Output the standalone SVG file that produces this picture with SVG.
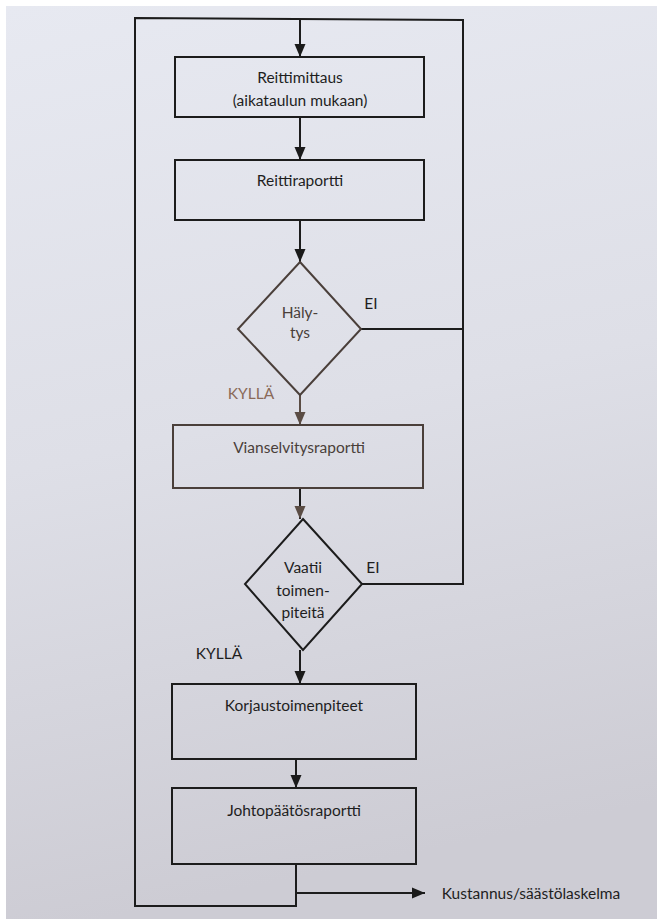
<svg xmlns="http://www.w3.org/2000/svg" width="657" height="919" viewBox="0 0 657 919">
<defs>
<linearGradient id="page" x1="0" y1="0" x2="0.15" y2="1">
<stop offset="0" stop-color="#e7e9f1"/>
<stop offset="0.5" stop-color="#dedfe7"/>
<stop offset="1" stop-color="#cdccd4"/>
</linearGradient>
<marker id="ah" viewBox="0 0 13 12" refX="13" refY="6" markerWidth="13" markerHeight="12" markerUnits="userSpaceOnUse" orient="auto">
<path d="M0,0.5 L13,6 L0,11.5 Z" fill="#1a1a1a"/>
</marker>
<marker id="ahb" viewBox="0 0 13 12" refX="13" refY="6" markerWidth="13" markerHeight="12" markerUnits="userSpaceOnUse" orient="auto">
<path d="M0,0.5 L13,6 L0,11.5 Z" fill="#5a4c44"/>
</marker>
</defs>
<style>
.box{fill:none;stroke:#1c1c1c;stroke-width:2}
.boxb{fill:none;stroke:#4a3f3a;stroke-width:2}
.t{font-family:Lato,"Open Sans",sans-serif;font-size:15.5px;fill:#1e1e1e;text-anchor:middle}
.tb{font-family:Lato,"Open Sans",sans-serif;font-size:15.5px;fill:#4a3f3a;text-anchor:middle}
.ln{fill:none;stroke:#1c1c1c;stroke-width:2}
.lnb{fill:none;stroke:#5a4c44;stroke-width:2}
</style>
<rect x="0" y="0" width="657" height="919" fill="#ffffff"/>
<rect x="6" y="6" width="651" height="913" fill="url(#page)"/>

<g id="connectors">
<path class="ln" d="M135,906 L135,18 L463,20 L463,584 L362,584"/>
<path class="ln" d="M463,329 L361,329"/>
<path class="ln" d="M300,19 L300,57" marker-end="url(#ah)"/>
<path class="ln" d="M300,117 L300,160" marker-end="url(#ah)"/>
<path class="ln" d="M300,220 L300,262" marker-end="url(#ah)"/>
<path class="lnb" d="M300,395 L300,425" marker-end="url(#ahb)"/>
<path class="ln" d="M300,488 L300,519" marker-end="url(#ahb)"/>
<path class="ln" d="M300,650 L300,684" marker-end="url(#ah)"/>
<path class="ln" d="M296,759 L296,788" marker-end="url(#ah)"/>
<path class="ln" d="M296,864 L296,906 L134,906"/>
<path class="ln" d="M296,893 L425,893" marker-end="url(#ah)"/>
</g>

<g id="reittimittaus">
<rect class="box" x="175" y="57" width="249" height="60"/>
<text class="t" x="300" y="83">Reittimittaus</text>
<text class="t" x="300" y="106">(aikataulun mukaan)</text>
</g>
<g id="reittiraportti">
<rect class="box" x="175" y="160" width="249" height="60"/>
<text class="t" x="300" y="186">Reittiraportti</text>
</g>
<g id="halytys">
<path class="boxb" d="M300,262 L361,329 L300,395 L238,329 Z"/>
<text class="tb" x="300" y="318">Häly-</text>
<text class="tb" x="300" y="338">tys</text>
<text class="t" x="371" y="309">EI</text>
<text class="t" x="251" y="399" style="fill:#8a6a58">KYLLÄ</text>
</g>
<g id="vianselvitysraportti">
<rect class="boxb" x="173" y="425" width="250" height="63"/>
<text class="tb" x="299" y="453">Vianselvitysraportti</text>
</g>
<g id="vaatii">
<path class="box" d="M303,519 L362,584 L303,650 L245,584 Z"/>
<text class="t" x="303" y="573">Vaatii</text>
<text class="t" x="303" y="596">toimen-</text>
<text class="t" x="303" y="618">piteitä</text>
<text class="t" x="373" y="573">EI</text>
<text class="t" x="219" y="659">KYLLÄ</text>
</g>
<g id="korjaustoimenpiteet">
<rect class="box" x="172" y="684" width="244" height="75"/>
<text class="t" x="294" y="711">Korjaustoimenpiteet</text>
</g>
<g id="johtopaatosraportti">
<rect class="box" x="172" y="788" width="244" height="76"/>
<text class="t" x="294" y="816">Johtopäätösraportti</text>
</g>
<g id="kustannus">
<text class="t" x="531" y="899">Kustannus/säästölaskelma</text>
</g>
</svg>
